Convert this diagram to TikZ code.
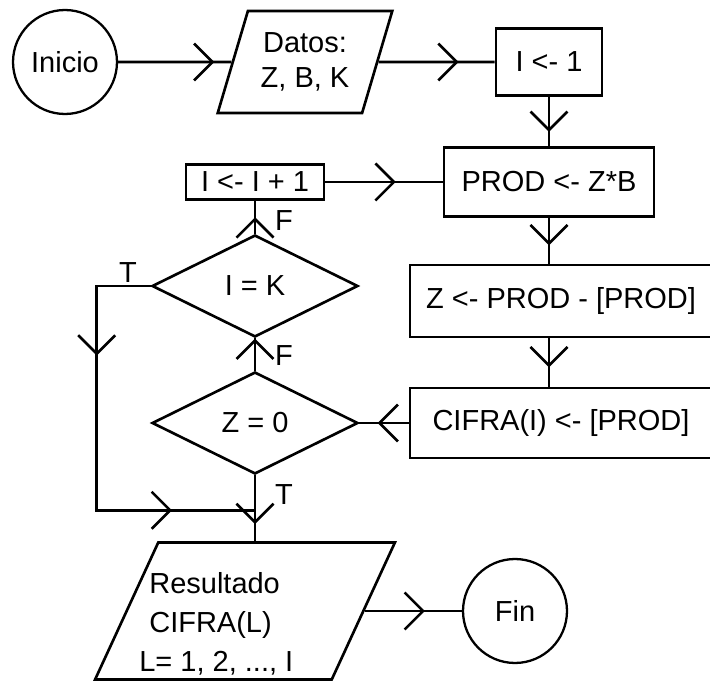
\documentclass[tikz,border=0pt]{standalone}
\usepackage{fontspec}
\setmainfont{Liberation Sans}
\usetikzlibrary{arrows.meta, positioning, shapes.geometric, decorations.markings, calc}

\begin{document}
\begin{tikzpicture}[
    x=0.02cm, y=-0.02cm,
    % 全域樣式設定
    every node/.style={font=\fontsize{16.5}{20}\selectfont},
    box/.style={draw, line width=1.5pt, rectangle, inner sep=0pt}, % 處理方框
    terminal/.style={draw, line width=1.3pt, circle, minimum size=2.08cm, inner sep=0pt}, % 開始/結束圓圈
    io/.style={draw, line width=1.5pt, trapezium, trapezium left angle=69, trapezium right angle=111, trapezium stretches=true, inner sep=2pt}, % 輸入/輸出平行四邊形
    decision/.style={draw, line width=1.5pt, diamond, inner sep=0pt, minimum width=4.12cm, minimum height=2.04cm}, % 判斷菱形
    tf/.style={inner sep=0pt}, % T / F 標記
    % 流程線:箭頭畫在線的中間
    flow/.style={line width=1.5pt, postaction={decorate, decoration={markings, mark=at position #1 with {\arrow{Straight Barb[length=0.37cm, width=0.74cm]}}}}}
]
    \useasboundingbox (0,0) rectangle (710,682);

    % --- 1. 上方一列 ---
    \node[terminal] (inicio) at (65,62) {Inicio};
    \node[io, minimum width=3.5cm, minimum height=2.04cm, align=center] (datos) at (305,62) {Datos:\\Z, B, K};
    \node[box, minimum width=2.12cm, minimum height=1.34cm] (asig) at (549,62) {I <- 1};

    % --- 2. 右側的處理方框 ---
    \node[box, minimum width=4.2cm, minimum height=1.38cm] (prod) at (549,182) {PROD <- Z*B};
    \node[box, minimum width=6.04cm, minimum height=1.44cm] (resta) at (561,301) {Z <- PROD - [PROD]};
    \node[box, minimum width=6.04cm, minimum height=1.4cm] (cifra) at (561,423) {CIFRA(I) <- [PROD]};

    % --- 3. 左側的迴圈 ---
    \node[box, minimum width=2.76cm, minimum height=0.7cm] (incr) at (255,182) {I <- I + 1};
    \node[decision] (ik) at (255,286) {I = K};
    \node[decision] (zcero) at (255,423) {Z = 0};

    % --- 4. 輸出與結束 ---
    \node[io, minimum width=6cm, minimum height=2.74cm, trapezium left angle=70, trapezium right angle=110] (result) at (245,611) {};
    \node[anchor=west, align=left, inner sep=0pt, font=\fontsize{16.5}{22.1}\selectfont] (restxt) at (139,624)
        {\hspace*{0.2cm}Resultado\\\hspace*{0.2cm}CIFRA(L)\\L= 1, 2, ..., I};
    \node[terminal] (fin) at (515,611) {Fin};

    % 分支標記
    \node[tf] (f1) at (284,221) {F};
    \node[tf] (f2) at (284,356) {F};
    \node[tf] (t1) at (128,273) {T};
    \node[tf] (t2) at (284,495) {T};

    % --- 5. 流程線 ---
    \coordinate (merge) at ($(zcero.south)+(0,35)$);
    \draw[flow=0.85] (inicio) -- (datos);
    \draw[flow=0.69] (datos) -- (asig);
    \draw[flow=0.71] (asig) -- (prod);
    \draw[flow=0.6] (incr) -- (prod);
    \draw[flow=0.6] (prod) -- (prod.south |- resta.north);
    \draw[flow=0.6] (prod.south |- resta.south) -- (prod.south |- cifra.north);
    \draw[flow=0.63] (cifra) -- (zcero);
    \draw[flow=0.99] (zcero) -- (ik);
    \draw[flow=0.5] (ik) -- (incr);
    \draw[flow=0.283, flow=0.81] (ik.west) -- ++(-54,0) |- (merge);
    \draw[flow=0.74] (zcero) -- (zcero.south |- result.north);
    \draw[flow=0.62] (result) -- (fin);

\end{tikzpicture}
\end{document}
